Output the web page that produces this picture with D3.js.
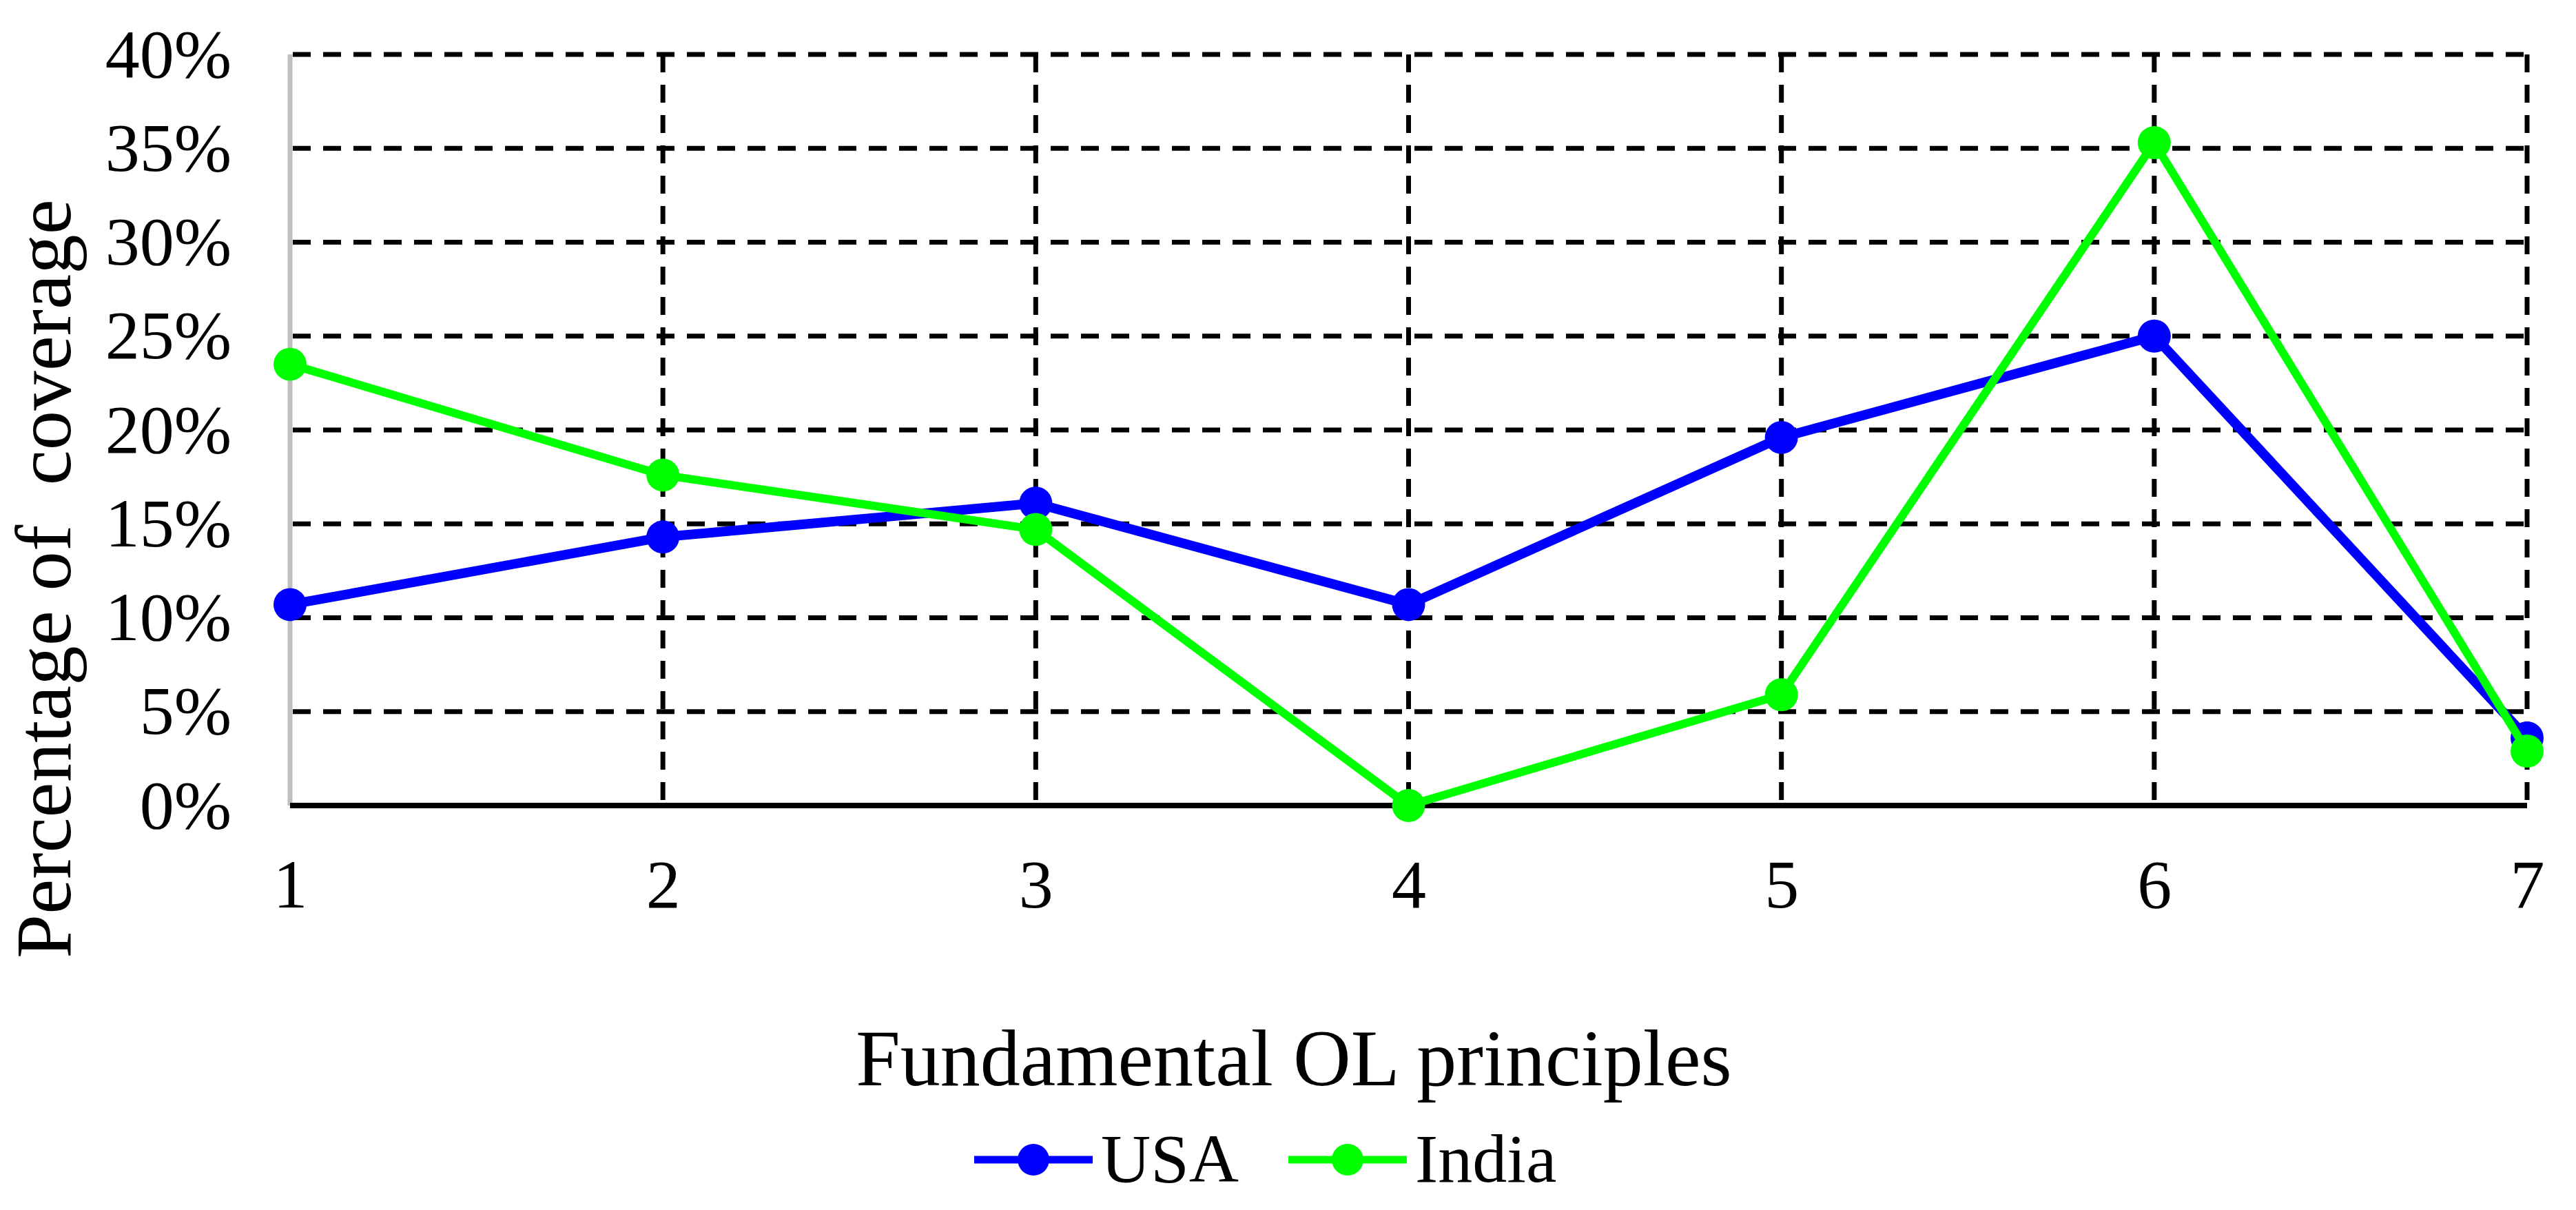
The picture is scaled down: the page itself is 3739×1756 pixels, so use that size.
<!DOCTYPE html>
<html>
<head>
<meta charset="utf-8">
<script src="https://cdn.jsdelivr.net/npm/d3@7"></script>
<style>
  body { margin: 0; background: #fff; }
  svg text { font-family: "Liberation Serif", "Times New Roman", serif; fill: #000; }
</style>
</head>
<body>
<svg id="chart" width="3739" height="1756"></svg>
<script>
// values (share of coverage per principle)
var principles = [1, 2, 3, 4, 5, 6, 7];
var usa = [0.107, 0.143, 0.161, 0.107, 0.196, 0.250, 0.036];
var india = [0.235, 0.176, 0.147, 0.000, 0.059, 0.353, 0.029];
var yTicks = [0, 0.05, 0.10, 0.15, 0.20, 0.25, 0.30, 0.35, 0.40];
var seriesNames = ["USA", "India"];
var seriesColors = ["#0000ff", "#00ff00"];

var svg = d3.select("#chart");

svg.append("rect")
    .attr("width", 3739)
    .attr("height", 1756)
    .attr("fill", "#fff");

var x = d3.scaleLinear()
    .domain([1, 7])
    .range([421, 3668]);

var y = d3.scaleLinear()
    .domain([0, 0.40])
    .range([1169, 79]);

// horizontal grid
svg.append("g")
    .attr("class", "hgrid")
  .selectAll("line")
  .data(yTicks.filter(function(d) { return d > 0; }))
  .enter().append("line")
    .attr("x1", x(1) + 4)
    .attr("x2", x(7))
    .attr("y1", function(d) { return y(d); })
    .attr("y2", function(d) { return y(d); })
    .attr("stroke", "#000")
    .attr("stroke-width", 7)
    .attr("stroke-dasharray", "26,18");

// vertical grid
svg.append("g")
    .attr("class", "vgrid")
  .selectAll("line")
  .data(principles.slice(1))
  .enter().append("line")
    .attr("x1", function(d) { return x(d); })
    .attr("x2", function(d) { return x(d); })
    .attr("y1", y(0.40))
    .attr("y2", y(0))
    .attr("stroke", "#000")
    .attr("stroke-width", 7)
    .attr("stroke-dasharray", "26,18");

// left axis (grey) and bottom axis (black)
svg.append("line")
    .attr("x1", x(1)).attr("x2", x(1))
    .attr("y1", y(0.40)).attr("y2", y(0))
    .attr("stroke", "#bfbfbf")
    .attr("stroke-width", 7);

svg.append("line")
    .attr("x1", x(1)).attr("x2", x(7))
    .attr("y1", y(0)).attr("y2", y(0))
    .attr("stroke", "#000")
    .attr("stroke-width", 8);

// tick labels
var yAxis = d3.axisLeft(y)
    .tickValues(yTicks)
    .tickFormat(d3.format(".0%"))
    .tickSize(0)
    .tickPadding(0);

svg.append("g")
    .attr("transform", "translate(336,0)")
    .call(yAxis)
    .call(function(g) { g.select(".domain").remove(); })
  .selectAll("text")
    .attr("dy", "0.32em")
    .style("font-family", "'Liberation Serif', 'Times New Roman', serif")
    .style("font-size", "100px");

var xAxis = d3.axisBottom(x)
    .tickValues(principles)
    .tickFormat(d3.format("d"))
    .tickSize(0)
    .tickPadding(0);

svg.append("g")
    .attr("transform", "translate(0," + y(0) + ")")
    .call(xAxis)
    .call(function(g) { g.select(".domain").remove(); })
  .selectAll("text")
    .attr("y", 148)
    .attr("dy", 0)
    .style("font-family", "'Liberation Serif', 'Times New Roman', serif")
    .style("font-size", "100px");

// axis titles
svg.append("text")
    .attr("transform", "translate(102,840) rotate(-90)")
    .attr("text-anchor", "middle")
    .style("font-size", "115px")
    .style("white-space", "pre")
    .text("Percentage of  coverage");

svg.append("text")
    .attr("x", 1878)
    .attr("y", 1575)
    .attr("text-anchor", "middle")
    .style("font-size", "116px")
    .text("Fundamental OL principles");

// lines + markers
var series = [usa, india];
var widths = [14, 12];

var line = d3.line()
    .x(function(d, i) { return x(principles[i]); })
    .y(function(d) { return y(d); });

series.forEach(function(values, s) {
  var g = svg.append("g").attr("class", "series-" + seriesNames[s]);

  g.append("path")
      .datum(values)
      .attr("d", line)
      .attr("fill", "none")
      .attr("stroke", seriesColors[s])
      .attr("stroke-width", widths[s])
      .attr("stroke-linejoin", "round");

  g.selectAll("circle")
      .data(values)
      .enter().append("circle")
      .attr("cx", function(d, i) { return x(principles[i]); })
      .attr("cy", function(d) { return y(d); })
      .attr("r", 24)
      .attr("fill", seriesColors[s]);
});

// legend
var legendX = [1414, 1870];

var legend = svg.append("g")
    .attr("class", "legend")
  .selectAll("g")
  .data(seriesNames)
  .enter().append("g")
    .attr("transform", function(d, i) { return "translate(" + legendX[i] + ",1683)"; });

legend.append("line")
    .attr("x1", 0).attr("x2", 172)
    .attr("stroke", function(d, i) { return seriesColors[i]; })
    .attr("stroke-width", 11);

legend.append("circle")
    .attr("cx", 86)
    .attr("r", 23)
    .attr("fill", function(d, i) { return seriesColors[i]; });

legend.append("text")
    .attr("x", 184)
    .attr("y", 32)
    .style("font-size", "100px")
    .text(function(d) { return d; });
</script>
</body>
</html>
